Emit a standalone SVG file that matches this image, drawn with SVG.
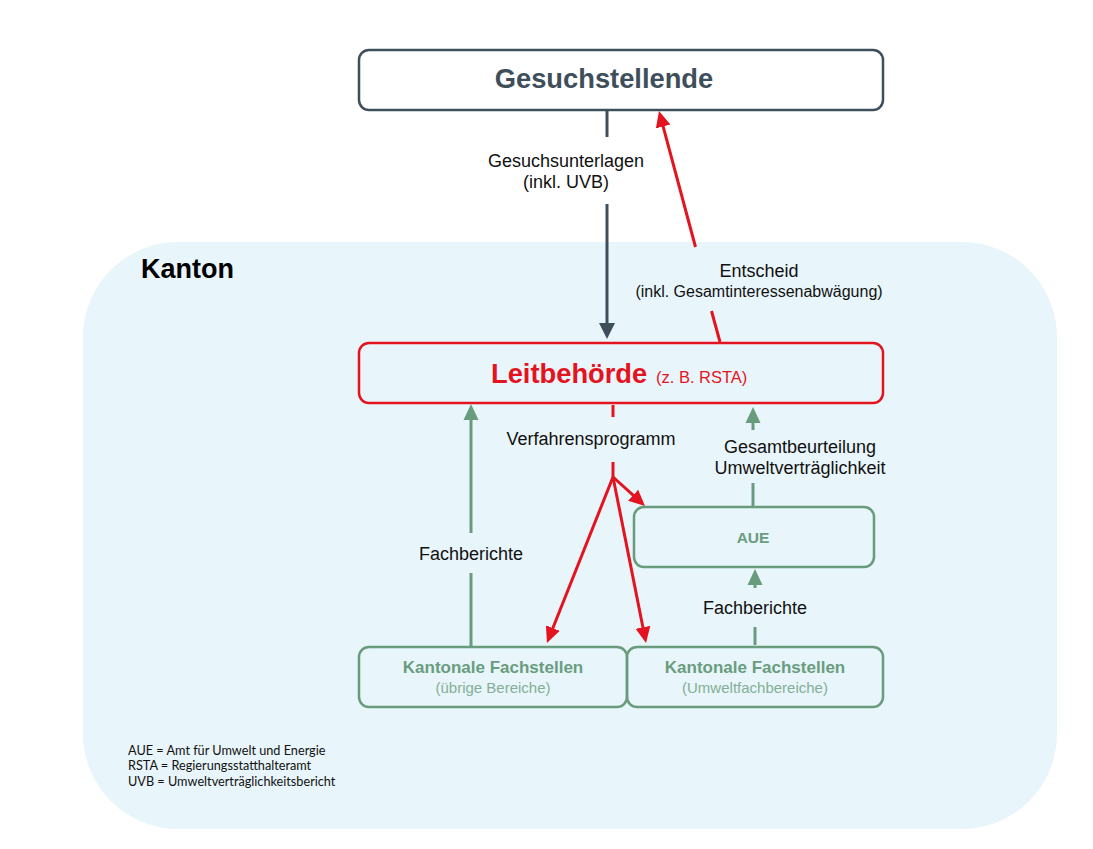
<svg xmlns="http://www.w3.org/2000/svg" width="1093" height="849" viewBox="0 0 1093 849">
<style>
text{font-family:"Liberation Sans",Arial,sans-serif}
.lbl{font-size:18px;fill:#111}
.box-dark{fill:#fff;stroke:#3E4F5B;stroke-width:2.5}
.box-red{fill:#E8F5FA;stroke:#E3141F;stroke-width:2.5}
.box-green{fill:none;stroke:#689C7D;stroke-width:2.5}
.gtitle{font-size:17px;font-weight:bold;fill:#6A9C7F}
.gsub{font-size:15px;fill:#84AF96}
.c-dark{stroke:#3E4F5B;stroke-width:3;fill:none}
.c-red{stroke:#E3141F;stroke-width:3;fill:none}
.c-green{stroke:#689C7D;stroke-width:3;fill:none}
.legend{font-family:Lato,"Liberation Sans",sans-serif;font-size:12.7px;fill:#111}
</style>
<defs>
<marker id="ah-dark" viewBox="0 0 16 16" refX="4" refY="8" markerWidth="16" markerHeight="16" markerUnits="userSpaceOnUse" orient="auto"><path d="M0,0 L16,8 L0,16 z" fill="#3E4F5B"/></marker>
<marker id="ah-red" viewBox="0 0 16 16" refX="4" refY="8" markerWidth="16" markerHeight="16" markerUnits="userSpaceOnUse" orient="auto"><path d="M0,0.5 L16,8 L0,15.5 z" fill="#E3141F"/></marker>
<marker id="ah-green" viewBox="0 0 16 16" refX="4" refY="8" markerWidth="16" markerHeight="16" markerUnits="userSpaceOnUse" orient="auto"><path d="M0,0.5 L16,8 L0,15.5 z" fill="#689C7D"/></marker>
</defs>
<rect width="1093" height="849" fill="#fff"/>
<g id="kanton">
<rect x="83" y="242" width="974" height="587" rx="95" ry="95" fill="#E8F5FA"/>
<text x="141" y="278" style="font-size:27px;font-weight:bold;fill:#000">Kanton</text>
</g>
<g id="gesuchstellende">
<rect class="box-dark" x="359" y="50" width="524" height="60" rx="10"/>
<text x="604" y="88" text-anchor="middle" style="font-size:27.3px;font-weight:bold;fill:#3E4F5B">Gesuchstellende</text>
</g>
<g id="leitbehoerde">
<rect class="box-red" x="359" y="343" width="524" height="60" rx="10"/>
<text x="491" y="383" style="fill:#E3141F"><tspan style="font-size:27.3px;font-weight:bold">Leitbehörde</tspan><tspan x="656" style="font-size:16.5px">(z. B. RSTA)</tspan></text>
</g>
<g id="aue">
<rect class="box-green" x="634" y="507" width="240" height="60" rx="10"/>
<text x="753" y="543" text-anchor="middle" style="font-size:15.5px;font-weight:bold;fill:#6A9C7F">AUE</text>
</g>
<g id="fachstellen-uebrige">
<rect class="box-green" x="359" y="647" width="268" height="60" rx="10"/>
<text class="gtitle" x="493" y="673" text-anchor="middle">Kantonale Fachstellen</text>
<text class="gsub" x="493" y="693" text-anchor="middle">(übrige Bereiche)</text>
</g>
<g id="fachstellen-umwelt">
<rect class="box-green" x="627" y="647" width="256" height="60" rx="10"/>
<text class="gtitle" x="755" y="673" text-anchor="middle">Kantonale Fachstellen</text>
<text class="gsub" x="755" y="693" text-anchor="middle">(Umweltfachbereiche)</text>
</g>
<g id="connectors">
<path class="c-dark" d="M607,110 V137"/>
<path class="c-dark" d="M607,204 V327" marker-end="url(#ah-dark)"/>
<text class="lbl" x="566" y="167" text-anchor="middle">Gesuchsunterlagen</text>
<text class="lbl" x="566" y="188" text-anchor="middle">(inkl. UVB)</text>
<path class="c-red" d="M720,342 L711.5,311"/>
<path class="c-red" d="M695.5,247 L662.1,122.6" marker-end="url(#ah-red)"/>
<text class="lbl" x="759" y="277" text-anchor="middle">Entscheid</text>
<text x="759" y="297" text-anchor="middle" style="font-size:16px;fill:#111">(inkl. Gesamtinteressenabwägung)</text>
<path class="c-red" d="M613,405 V417"/>
<path class="c-red" d="M613,462 V477"/>
<text class="lbl" x="591" y="445" text-anchor="middle">Verfahrensprogramm</text>
<path class="c-red" d="M613,477 L636.1,497.9" marker-end="url(#ah-red)"/>
<path class="c-red" d="M613,477 L551.4,631.8" marker-end="url(#ah-red)"/>
<path class="c-red" d="M613,477 L643.7,631.2" marker-end="url(#ah-red)"/>
<path class="c-green" d="M471,646 V573"/>
<path class="c-green" d="M471,533 V416" marker-end="url(#ah-green)"/>
<text class="lbl" x="471" y="560" text-anchor="middle">Fachberichte</text>
<path class="c-green" d="M753,507 V483"/>
<path class="c-green" d="M753,430 V419" marker-end="url(#ah-green)"/>
<text class="lbl" x="800" y="453" text-anchor="middle">Gesamtbeurteilung</text>
<text class="lbl" x="800" y="474" text-anchor="middle">Umweltverträglichkeit</text>
<path class="c-green" d="M755,645 V627"/>
<path class="c-green" d="M755,588 V581" marker-end="url(#ah-green)"/>
<text class="lbl" x="755" y="614" text-anchor="middle">Fachberichte</text>
</g>
<g id="legende">
<text class="legend" x="128" y="755">AUE = Amt für Umwelt und Energie</text>
<text class="legend" x="128" y="770">RSTA = Regierungsstatthalteramt</text>
<text class="legend" x="128" y="786">UVB = Umweltverträglichkeitsbericht</text>
</g>
</svg>
